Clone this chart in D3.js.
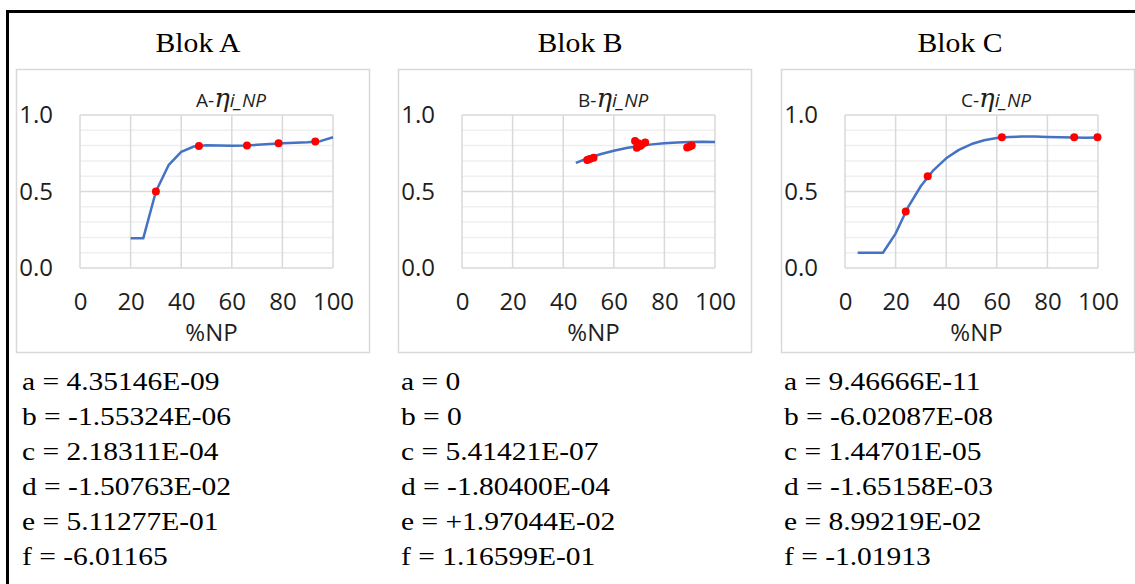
<!DOCTYPE html>
<html>
<head>
<meta charset="utf-8">
<script src="https://cdn.jsdelivr.net/npm/d3@7"></script>
<style>
  html, body { margin: 0; padding: 0; background: #fff; }
  svg { display: block; }
</style>
</head>
<body>
<div id="chart"></div>
<script>
// ---- data ----
const blocks = ['A', 'B', 'C'];
const xTicks = [0, 20, 40, 60, 80, 100];
const yTicks = [0.0, 0.5, 1.0];
const yMinor = [0.1, 0.2, 0.3, 0.4, 0.6, 0.7, 0.8, 0.9];

const lineAx = [20, 25, 30, 35, 40, 45, 50, 55, 60, 65, 70, 75, 80, 85, 90, 95, 100];
const lineAy = [0.194, 0.194, 0.50, 0.672, 0.759, 0.794, 0.802, 0.801, 0.799, 0.801, 0.805, 0.810, 0.816, 0.819, 0.822, 0.829, 0.855];
const ptsAx = [30, 47, 66, 78.5, 93];
const ptsAy = [0.50, 0.797, 0.80, 0.815, 0.826];

const lineBx = [45, 50, 55, 60, 65, 70, 75, 80, 85, 90, 95, 100];
const lineBy = [0.687, 0.719, 0.745, 0.766, 0.784, 0.798, 0.808, 0.816, 0.821, 0.823, 0.825, 0.824];
const ptsBx = [49.5, 50.5, 52, 68.4, 69.1, 69.7, 70.4, 71, 72.4, 89, 90, 90.8];
const ptsBy = [0.706, 0.712, 0.72, 0.83, 0.786, 0.815, 0.797, 0.805, 0.821, 0.787, 0.794, 0.80];

const lineCx = [5, 10, 15, 20, 25, 30, 35, 40, 45, 50, 55, 60, 65, 70, 75, 80, 85, 90, 95, 100];
const lineCy = [0.1, 0.1, 0.1, 0.225, 0.40, 0.536, 0.64, 0.717, 0.772, 0.81, 0.835, 0.849, 0.856, 0.859, 0.859, 0.857, 0.855, 0.853, 0.852, 0.853];
const ptsCx = [24, 32.7, 62, 90.6, 99.8];
const ptsCy = [0.37, 0.60, 0.854, 0.854, 0.854];

const coefA = ['a = 4.35146E-09', 'b = -1.55324E-06', 'c = 2.18311E-04', 'd = -1.50763E-02', 'e = 5.11277E-01', 'f = -6.01165'];
const coefB = ['a = 0', 'b = 0', 'c = 5.41421E-07', 'd = -1.80400E-04', 'e = +1.97044E-02', 'f = 1.16599E-01'];
const coefC = ['a = 9.46666E-11', 'b = -6.02087E-08', 'c = 1.44701E-05', 'd = -1.65158E-03', 'e = 8.99219E-02', 'f = -1.01913'];

const panels = [
    { name: blocks[0], lx: lineAx, ly: lineAy, px: ptsAx, py: ptsAy, coef: coefA },
    { name: blocks[1], lx: lineBx, ly: lineBy, px: ptsBx, py: ptsBy, coef: coefB },
    { name: blocks[2], lx: lineCx, ly: lineCy, px: ptsCx, py: ptsCy, coef: coefC }
];

// ---- layout ----
const W = 1135, H = 584;
const boxLeft = [16, 398, 781];
const titleX = [198, 580, 960];
const coefX = [22, 401, 784];
const boxW = 353, boxTop = 69, boxBottom = 352;
const plotOff = 64, plotW = 253, plotTop = 115, plotBottom = 268;
const uiFont = "'Open Sans', 'Noto Sans', sans-serif";
const serif = "'Liberation Serif', 'Times New Roman', serif";

const svg = d3.select('#chart')
    .append('svg')
    .attr('width', W)
    .attr('height', H);

// outer frame (top + left only are visible)
svg.append('line')
    .attr('x1', 6).attr('x2', W).attr('y1', 11.5).attr('y2', 11.5)
    .attr('stroke', '#000').attr('stroke-width', 3);
svg.append('line')
    .attr('x1', 7.5).attr('x2', 7.5).attr('y1', 10).attr('y2', H)
    .attr('stroke', '#000').attr('stroke-width', 3);

panels.forEach((p, i) => {
    const left = boxLeft[i];
    const x = d3.scaleLinear().domain([0, 100]).range([left + plotOff, left + plotOff + plotW]);
    const y = d3.scaleLinear().domain([0, 1]).range([plotBottom, plotTop]);

    // block heading
    svg.append('text')
        .attr('transform', `translate(${titleX[i]},52) scale(1.06,1)`)
        .attr('text-anchor', 'middle')
        .style('font-family', serif)
        .style('font-size', '28px')
        .attr('fill', '#000')
        .text('Blok ' + p.name);

    // chart box
    svg.append('rect')
        .attr('x', left + 0.5).attr('y', boxTop + 0.5)
        .attr('width', boxW).attr('height', boxBottom - boxTop)
        .attr('fill', '#fff')
        .attr('stroke', '#d9d9d9')
        .attr('stroke-width', 1.5);

    const g = svg.append('g');

    // minor horizontal grid
    g.selectAll('line.minor')
        .data(yMinor)
        .join('line')
        .attr('class', 'minor')
        .attr('x1', x(0)).attr('x2', x(100))
        .attr('y1', d => y(d)).attr('y2', d => y(d))
        .attr('stroke', '#efefef')
        .attr('stroke-width', 1.5);

    // major grid
    g.selectAll('line.hmajor')
        .data(yTicks)
        .join('line')
        .attr('class', 'hmajor')
        .attr('x1', x(0)).attr('x2', x(100))
        .attr('y1', d => y(d)).attr('y2', d => y(d))
        .attr('stroke', '#d9d9d9')
        .attr('stroke-width', 1.5);

    g.selectAll('line.vmajor')
        .data(xTicks)
        .join('line')
        .attr('class', 'vmajor')
        .attr('x1', d => x(d)).attr('x2', d => x(d))
        .attr('y1', y(0)).attr('y2', y(1))
        .attr('stroke', '#d9d9d9')
        .attr('stroke-width', 1.5);

    // axes (labels only)
    const yAxis = g.append('g')
        .attr('transform', `translate(${x(0)},0)`)
        .call(d3.axisLeft(y).tickValues(yTicks).tickFormat(d3.format('.1f')).tickSize(0).tickPadding(27));
    const xAxis = g.append('g')
        .attr('transform', `translate(0,${y(0)})`)
        .call(d3.axisBottom(x).tickValues(xTicks).tickSize(0).tickPadding(25));
    [yAxis, xAxis].forEach(a => {
        a.select('.domain').remove();
        a.selectAll('text')
            .style('font-family', uiFont)
            .style('font-size', '24px')
            .attr('fill', '#1e1e1e');
    });

    // x axis title
    g.append('text')
        .attr('x', (x(0) + x(100)) / 2 + 5)
        .attr('y', 341)
        .attr('text-anchor', 'middle')
        .style('font-family', uiFont)
        .style('font-size', '24px')
        .attr('fill', '#1e1e1e')
        .text('%NP');

    // chart title  X-ηi_NP
    const t = g.append('text')
        .attr('x', x(0) + 116)
        .attr('y', 107)
        .attr('fill', '#1e1e1e')
        .style('font-family', uiFont);
    t.append('tspan').style('font-size', '19px').text(p.name + '-');
    t.append('tspan').style('font-size', '26px').style('font-style', 'italic')
        .style('font-family', "'DejaVu Serif', serif").text('η');
    t.append('tspan').style('font-size', '19px').style('font-style', 'italic').text('i_NP');

    // fitted line
    const pts = p.lx.map((v, k) => [v, p.ly[k]]);
    g.append('path')
        .datum(pts)
        .attr('fill', 'none')
        .attr('stroke', '#4472c4')
        .attr('stroke-width', 2.5)
        .attr('stroke-linejoin', 'round')
        .attr('d', d3.line().x(d => x(d[0])).y(d => y(d[1])));

    // measured points
    g.selectAll('circle')
        .data(p.px.map((v, k) => [v, p.py[k]]))
        .join('circle')
        .attr('cx', d => x(d[0]))
        .attr('cy', d => y(d[1]))
        .attr('r', 4)
        .attr('fill', '#ff0000');

    // coefficients
    svg.selectAll('text.coef' + i)
        .data(p.coef)
        .join('text')
        .attr('class', 'coef' + i)
        .attr('transform', (d, k) => `translate(${coefX[i]},${390 + 35 * k}) scale(1.18,1)`)
        .style('font-family', serif)
        .style('font-size', '25px')
        .attr('fill', '#000')
        .text(d => d);
});
</script>
</body>
</html>
